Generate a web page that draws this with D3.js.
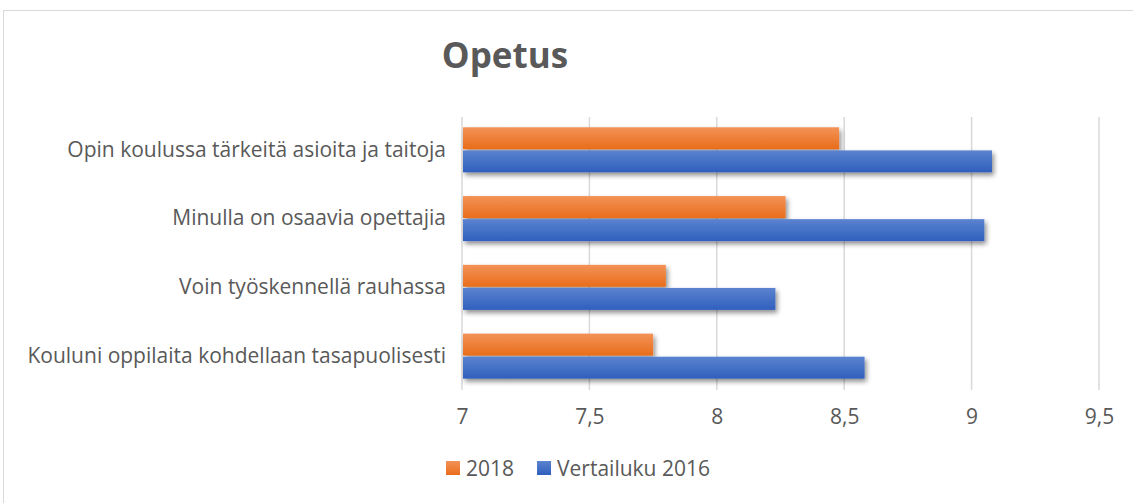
<!DOCTYPE html>
<html><head><meta charset="utf-8">
<script src="https://cdn.jsdelivr.net/npm/d3@7"></script>
<style>body{margin:0;background:#fff;}svg{display:block;}</style>
</head><body>
<svg id="c" width="1133" height="503"></svg>
<script>
const categories = ["Opin koulussa tärkeitä asioita ja taitoja","Minulla on osaavia opettajia","Voin työskennellä rauhassa","Kouluni oppilaita kohdellaan tasapuolisesti"];
const series2018 = [8.48, 8.27, 7.80, 7.75];
const series2016 = [9.08, 9.05, 8.23, 8.58];
const seriesNames = ["2018", "Vertailuku 2016"];
const tickValues = [7, 7.5, 8, 8.5, 9, 9.5];
const tickLabels = ["7", "7,5", "8", "8,5", "9", "9,5"];
const title = "Opetus";

const svg = d3.select("#c");
const font = "'Open Sans', sans-serif";
const grey = "#595959";
const fs = 21;

// chart border
svg.append("rect").attr("x",3.5).attr("y",10.5).attr("width",1140).attr("height",500)
  .attr("fill","#fff").attr("stroke","#d9d9d9").attr("stroke-width",1);

const defs = svg.append("defs");
function grad(id, c1, c2){
  const g = defs.append("linearGradient").attr("id",id).attr("x1",0).attr("y1",0).attr("x2",0).attr("y2",1);
  g.append("stop").attr("offset","0%").attr("stop-color",c1);
  g.append("stop").attr("offset","100%").attr("stop-color",c2);
}
grad("gO","#f39257","#e96d1a");
grad("gB","#5b83cf","#2f5fbd");
const f = defs.append("filter").attr("id","sh").attr("x","-5%").attr("y","-30%").attr("width","115%").attr("height","190%");
f.append("feGaussianBlur").attr("in","SourceAlpha").attr("stdDeviation",2.5).attr("result","b");
f.append("feOffset").attr("in","b").attr("dx",2).attr("dy",3).attr("result","o");
f.append("feComponentTransfer").attr("in","o").attr("result","o2").append("feFuncA").attr("type","linear").attr("slope",0.45);
const m = f.append("feMerge"); m.append("feMergeNode").attr("in","o2"); m.append("feMergeNode").attr("in","SourceGraphic");

const x = d3.scaleLinear().domain([7, 9.5]).range([462, 1099]);
const y = d3.scaleBand().domain(categories).range([118, 390]).paddingInner(0.345).paddingOuter(0.15).align(0.45);
const ySub = d3.scaleBand().domain(seriesNames).range([0, y.bandwidth()]).paddingInner(0.05);

// gridlines
svg.append("g").selectAll("line").data(tickValues).join("line")
  .attr("x1",d=>x(d)).attr("x2",d=>x(d)).attr("y1",117).attr("y2",390)
  .attr("stroke","#d9d9d9").attr("stroke-width",1.5);

// x axis labels
const xAxis = d3.axisBottom(x).tickValues(tickValues).tickFormat((d,i)=>tickLabels[i]).tickSize(0).tickPadding(0);
const gx = svg.append("g").attr("transform","translate(0,409)").call(xAxis);
gx.select(".domain").remove();
gx.selectAll("text").attr("font-family",font).attr("font-size",fs).attr("fill",grey).attr("dy","0.71em");

// y axis labels
const yAxis = d3.axisLeft(y).tickSize(0).tickPadding(0);
const gy = svg.append("g").attr("transform","translate(446,0)").call(yAxis);
gy.select(".domain").remove();
gy.selectAll("text").attr("font-family",font).attr("font-size",fs).attr("fill",grey);

// bars
const data = categories.map((c,i)=>({c, vals:[{s:seriesNames[0], v:series2018[i]},{s:seriesNames[1], v:series2016[i]}]}));
const fills = {"2018":"url(#gO)","Vertailuku 2016":"url(#gB)"};
const gb = svg.append("g").attr("filter","url(#sh)");
data.forEach(d=>{
  gb.selectAll(null).data(d.vals).join("rect")
    .attr("x",x(7)+1).attr("y",e=>y(d.c)+ySub(e.s))
    .attr("width",e=>x(e.v)-x(7)-1).attr("height",ySub.bandwidth())
    .attr("fill",e=>fills[e.s]);
});

// title
svg.append("text").attr("x",505).attr("y",68).attr("text-anchor","middle")
  .attr("font-family",font).attr("font-weight","bold").attr("font-size",35).attr("fill",grey).text(title);

// legend
const lg = svg.append("g").attr("transform","translate(446,461)");
let lx = 0;
seriesNames.forEach((s,i)=>{
  lg.append("rect").attr("x",lx).attr("y",0).attr("width",14).attr("height",14).attr("fill",i===0?"url(#gO)":"url(#gB)");
  const t = lg.append("text").attr("x",lx+20).attr("y",8).attr("dy","0.35em")
    .attr("font-family",font).attr("font-size",fs).attr("fill",grey).text(s);
  lx += 20 + t.node().getComputedTextLength() + 23;
});
</script>
</body></html>
